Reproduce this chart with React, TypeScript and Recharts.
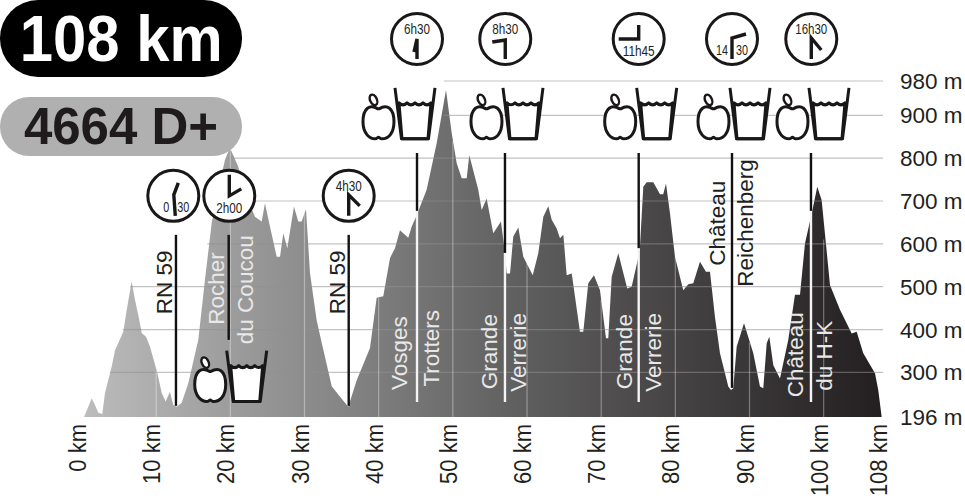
import { AreaChart, Area, XAxis, YAxis, ReferenceLine, ReferenceDot } from 'recharts'

const distances = [
  0.27, 0.85, 1.31, 1.75, 2.2, 2.74, 3.1, 4.0, 4.45, 5.57, 6.03, 6.7, 7.15, 7.73, 8.05, 8.63, 9.17, 10.15, 10.75, 11.28,
  11.86, 12.31, 12.77, 13.44, 14.33, 15.68, 16.58, 17.49, 18.38, 19.28, 19.95, 21.07, 22.2, 23.32, 24.23, 24.67, 25.35,
  26.25, 26.7, 27.14, 27.68, 28.58, 29.16, 29.62, 30.2, 30.74, 31.64, 32.32, 33.67, 34.79, 35.9, 37.04, 38.83, 39.73,
  40.62, 41.53, 42.2, 42.87, 43.99, 44.45, 45.13, 46.47, 47.82, 49.08, 49.85, 50.52, 51.2, 51.87, 52.22, 53.43, 53.89,
  54.56, 55.45, 56.49, 57.03, 57.26, 57.71, 58.15, 58.83, 59.5, 60.77, 61.52, 62.2, 62.87, 63.33, 64.0, 64.45, 64.9,
  65.35, 66.03, 67.14, 67.59, 68.26, 69.03, 69.84, 70.65, 70.96, 71.42, 72.31, 73.52, 74.11, 74.92, 75.23, 75.68, 76.14,
  77.03, 77.93, 78.37, 78.74, 79.28, 79.95, 81.07, 81.75, 82.42, 83.32, 84.13, 84.67, 85.34, 86.02, 87.14, 87.5, 87.81,
  88.27, 89.26, 90.51, 91.41, 91.86, 92.32, 92.67, 93.21, 94.11, 95.23, 96.13, 96.81, 97.48, 98.39, 99.14, 99.73, 100.85,
  102.2, 103.78, 104.45, 105.34, 106.92, 107.36, 107.82,
]
const elevations = [
  196, 220, 240, 224, 206, 203, 252, 313, 352, 395, 446, 512, 469, 422, 392, 383, 360, 299, 252, 232,
  255, 224, 220, 229, 275, 376, 516, 649, 726, 796, 824, 780, 710, 663, 652, 695, 640,
  570, 570, 625, 590, 687, 652, 652, 681, 532, 422, 369, 268, 243, 220, 282, 357, 474,
  478, 567, 590, 632, 614, 640, 667, 726, 835, 959, 858, 788, 753, 753, 807, 726, 679,
  706, 625, 652, 578, 531, 531, 617, 638, 570, 527, 578, 663, 688, 656, 636, 613, 621,
  527, 531, 395, 395, 508, 527, 492, 380, 380, 523, 578, 496, 500, 562, 593, 733, 744,
  744, 716, 716, 741, 671, 570, 492, 506, 508, 558, 535, 535, 430, 345, 267, 259, 263,
  360, 415, 345, 267, 263, 368, 383, 317, 286, 376, 481, 481, 601, 671, 733, 702, 504,
  446, 391, 395, 345, 298, 259, 196,
]
const profile = distances.map((km, i) => ({ km, m: elevations[i] }))

const kmTicks = [0, 10, 20, 30, 40, 50, 60, 70, 80, 90, 100, 108]
const mTicks = [196, 300, 400, 500, 600, 700, 800, 900, 980]

// horizontal lines start where the profile first reaches that height
const gridLevels = [300, 400, 500, 600, 700, 800, 900, 980]
const gridStarts = [3.8, 5.5, 6.5, 16.9, 17.9, 20, 48.8, 48.8]
// vertical lines stop at the profile
const kmLines = [10, 20, 30, 40, 50, 60, 70, 80, 90, 100]
const kmLineTops = [303, 824, 670, 474, 840, 555, 470, 570, 370, 610]

const stationKm = [12.67, 19.78, 35.96, 45.17, 57.03, 75.06, 87.64, 98.29]
const stationTop = [621, 621, 621, 812, 812, 812, 812, 812]
const stationSplit = [222, 376, 222, 677, 579, 590, 264, 677]
const stationFoot = [222, 376, 222, 231, 231, 231, 264, 231]

const clockKm = [12.31, 19.86, 35.96, 45.17, 57.07, 75.06, 87.64, 98.33]
const clockAlt = [712, 712, 712, 1078, 1078, 1078, 1078, 1078]
const clockTimes = ['0 30', '2h00', '4h30', '6h30', '8h30', '11h45', '14 30', '16h30']
const clockHands = [
  '2,20 0.5,-1 5,-13',
  '0,-21 0,0 12,-7',
  '0,20 0,-1 11,10',
  '0,20 0,0 -3,13',
  '0,20 0,1 -13,3',
  '0,-14 0,0 -20,0',
  '0,20 0,-1 14,-5',
  '0,20 0,-1 10,11',
]

const foodKm = [19.51, 42.2, 56.76, 74.79, 87.37, 98.02]
const foodAlt = [351, 964, 964, 964, 964, 964]

const placeNames = [
  'RN 59', 'Rocher', 'du Coucou', 'RN 59', 'Vosges', 'Trotters', 'Grande', 'Verrerie',
  'Grande', 'Verrerie', 'Château', 'Reichenberg', 'Château', 'du H-K',
]
const placeKm = [12.09, 19.15, 23.1, 35.46, 43.86, 48.13, 55.99, 59.82, 74.11, 78.06, 86.69, 90.51, 97.25, 101.16]
const placeAlt = [436, 411, 366, 436, 259, 267, 261, 255, 261, 255, 549, 500, 242, 257]
const placeDark = [true, false, false, true, false, false, false, false, false, false, true, true, false, false]

const FONT = '"Liberation Sans", Arial, sans-serif'

function KmTick({ x, payload }: any) {
  return (
    <text
      transform={`translate(${x + 4} 424) rotate(-90) scale(1 1.12)`}
      textAnchor="end"
      fontFamily={FONT}
      fontSize={22}
      fill="#231f20"
    >
      {payload.value} km
    </text>
  )
}

function Clock({ cx, cy, time, hands }: any) {
  const parts = time.split(' ')
  const low = time === '2h00' || time === '11h45'
  const pts = hands
    .split(' ')
    .map((p: string) => {
      const [a, b] = p.split(',').map(Number)
      return `${cx + a},${cy + b}`
    })
    .join(' ')
  const txt = { fontFamily: FONT, fontSize: 14.5, fill: '#231f20', lengthAdjust: 'spacingAndGlyphs' as const }
  return (
    <g>
      <circle cx={cx} cy={cy} r={25.5} fill="#fff" stroke="#1a1718" strokeWidth={3} />
      <polyline points={pts} fill="none" stroke="#1a1718" strokeWidth={3.4} />
      {parts.length === 2 ? (
        <>
          <text x={cx - 4} y={cy + 16} textAnchor="end" textLength={parts[0].length * 6} {...txt}>{parts[0]}</text>
          <text x={cx + 4} y={cy + 16} textLength={12} {...txt}>{parts[1]}</text>
        </>
      ) : (
        <text x={cx} y={low ? cy + 17 : cy - 5} textAnchor="middle" textLength={time.length > 4 ? 32 : 26} {...txt}>{time}</text>
      )}
    </g>
  )
}

// cx,cy is the top left corner of the glass, the apple sits to its left
function Food({ cx, cy }: any) {
  const s = { stroke: '#1a1718', strokeWidth: 3, strokeLinejoin: 'round' as const }
  return (
    <g>
      <g transform={`translate(${cx - 33} ${cy + 6})`}>
        <path
          d="M16,15 C8,10 1,14 1,28 C1,40 8,45 13,45 C15,45 15.5,43.5 16.5,43.5 C17.5,43.5 18,45 20,45 C26,45 32,40 32,28 C32,14 25,10 17,15Z"
          fill="#fff"
          {...s}
        />
        <ellipse cx={11.5} cy={6} rx={3.4} ry={5.5} transform="rotate(-25 11.5 6)" fill="#fff" {...s} strokeWidth={2.4} />
      </g>
      <path d={`M${cx + 4},${cy + 15} Q${cx + 8},${cy + 19} ${cx + 12},${cy + 15} Q${cx + 16},${cy + 19} ${cx + 20},${cy + 15} Q${cx + 24},${cy + 19} ${cx + 28},${cy + 15} Q${cx + 32},${cy + 19} ${cx + 36},${cy + 15} L${cx + 33},${cy + 51} L${cx + 7},${cy + 51} Z`} fill="#fff" {...s} />
      <path d={`M${cx},${cy} L${cx + 6.5},${cy + 51} L${cx + 33.5},${cy + 51} L${cx + 40},${cy}`} fill="none" {...s} />
    </g>
  )
}

function Place({ cx, cy, name, dark }: any) {
  return (
    <text
      transform={`rotate(-90 ${cx} ${cy})`}
      x={cx}
      y={cy}
      fontFamily={FONT}
      fontSize={22.5}
      fill={dark ? '#231f20' : '#e8e8e8'}
    >
      {name}
    </text>
  )
}

export default function App() {
  return (
    <div style={{ position: 'absolute', left: 0, top: 0, width: 965, height: 500, background: '#fff', overflow: 'hidden' }}>
      <AreaChart width={965} height={500} data={profile} margin={{ top: 81, right: 0, bottom: 0, left: 82 }}>
        <defs>
          <linearGradient id="profileFill" x1="0" y1="0" x2="1" y2="0">
            <stop offset="0%" stopColor="#bcbcbc" />
            <stop offset="55%" stopColor="#5f5e5f" />
            <stop offset="100%" stopColor="#231f20" />
          </linearGradient>
        </defs>
        <XAxis
          dataKey="km"
          type="number"
          domain={[0, 108]}
          ticks={kmTicks}
          interval={0}
          height={83}
          tickLine={false}
          axisLine={false}
          tick={<KmTick />}
        />
        <YAxis
          orientation="right"
          type="number"
          domain={[196, 980]}
          ticks={mTicks}
          interval={0}
          width={82}
          tickLine={false}
          axisLine={false}
          tickMargin={11}
          tickFormatter={(v: number) => `${v} m`}
          tick={{ fontFamily: FONT, fontSize: 22.5, fill: '#231f20' }}
        />
        <Area
          type="linear"
          dataKey="m"
          baseValue={196}
          stroke="none"
          fill="url(#profileFill)"
          fillOpacity={1}
          isAnimationActive={false}
        />
        {gridLevels.map((level, i) => (
          <ReferenceLine
            key={level}
            segment={[{ x: gridStarts[i], y: level }, { x: 108, y: level }]}
            stroke="#8f8f8f"
            strokeOpacity={0.55}
            strokeWidth={1.2}
            ifOverflow="visible"
          />
        ))}
        {kmLines.map((km, i) => (
          <ReferenceLine
            key={km}
            segment={[{ x: km, y: 196 }, { x: km, y: kmLineTops[i] }]}
            stroke="#fff"
            strokeOpacity={0.35}
            strokeWidth={1.2}
          />
        ))}
        {stationKm.map((km, i) => (
          <ReferenceLine
            key={'w' + km}
            segment={[{ x: km, y: stationSplit[i] }, { x: km, y: stationFoot[i] }]}
            stroke="#f4f4f4"
            strokeWidth={2.4}
          />
        ))}
        {stationKm.map((km, i) => (
          <ReferenceLine
            key={'b' + km}
            segment={[{ x: km, y: stationTop[i] }, { x: km, y: stationSplit[i] }]}
            stroke="#111"
            strokeWidth={2.4}
          />
        ))}
        {placeNames.map((name, i) => (
          <ReferenceDot
            key={name + i}
            x={placeKm[i]}
            y={placeAlt[i]}
            ifOverflow="visible"
            shape={(p: any) => <Place {...p} name={name} dark={placeDark[i]} />}
          />
        ))}
        {foodKm.map((km, i) => (
          <ReferenceDot key={'f' + km} x={km} y={foodAlt[i]} ifOverflow="visible" shape={(p: any) => <Food {...p} />} />
        ))}
        {clockKm.map((km, i) => (
          <ReferenceDot
            key={'c' + km}
            x={km}
            y={clockAlt[i]}
            ifOverflow="visible"
            shape={(p: any) => <Clock {...p} time={clockTimes[i]} hands={clockHands[i]} />}
          />
        ))}
      </AreaChart>
      <div style={{ position: 'absolute', left: 0, top: 0, width: 242, height: 77, borderRadius: 38, background: '#000', color: '#fff', fontFamily: FONT, fontWeight: 700, fontSize: 65, lineHeight: '77px', textAlign: 'center' }}>
        <span style={{ display: 'inline-block', transform: 'scaleX(0.92)', whiteSpace: 'nowrap', margin: '0 -20px' }}>108 km</span>
      </div>
      <div style={{ position: 'absolute', left: 0, top: 97, width: 242, height: 59, borderRadius: 29, background: '#b0b0b0', color: '#1f1a1c', fontFamily: FONT, fontWeight: 700, fontSize: 51, lineHeight: '60px', textAlign: 'center' }}>
        4664 D+
      </div>
    </div>
  )
}
